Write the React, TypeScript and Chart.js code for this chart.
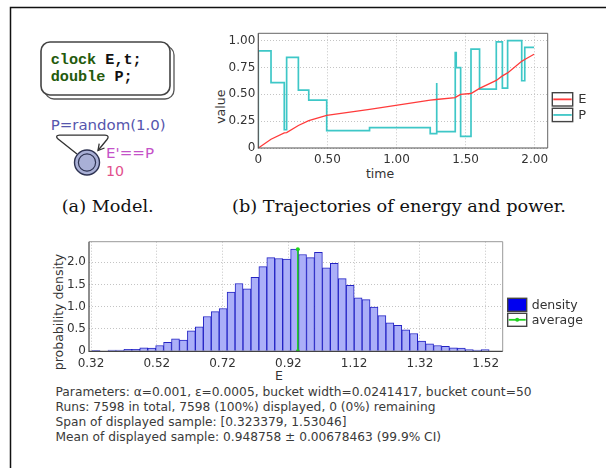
import React, { useEffect, useRef } from "react";
import { Chart, registerables } from "chart.js";

Chart.register(...registerables);

const SANS = "'DejaVu Sans', sans-serif";

// ---------- (b) Trajectories of energy and power ----------
const E_TIME = [0, 0.092, 0.188, 0.205, 0.29, 0.365, 0.495, 0.805, 1.244, 1.287, 1.425, 1.432, 1.464, 1.539, 1.601, 1.722, 1.766, 1.804, 1.908, 1.928, 1.995];
const E_VALUE = [0, 0.082, 0.14, 0.144, 0.21, 0.255, 0.305, 0.36, 0.446, 0.452, 0.47, 0.476, 0.5, 0.508, 0.556, 0.63, 0.672, 0.7, 0.81, 0.825, 0.874];
// P is piecewise constant: value P_VALUE[i] holds from P_TIME[i] to P_TIME[i+1]
const P_TIME = [0, 0, 0.092, 0.188, 0.205, 0.29, 0.365, 0.495, 0.805, 1.244, 1.287, 1.293, 1.425, 1.432, 1.464, 1.539, 1.601, 1.722, 1.766, 1.804, 1.906, 1.928];
const P_VALUE = [0, 0.905, 0.61, 0.17, 0.845, 0.54, 0.446, 0.162, 0.19, 0.134, 0.605, 0.153, 0.89, 0.75, 0.108, 0.922, 0.548, 0.99, 0.558, 1.0, 0.627, 0.938];
const P_END_TIME = 1.995;
const LINE_X_TICKS = [0, 0.5, 1, 1.5, 2];
const LINE_X_LABELS = ["0", "0.50", "1.00", "1.50", "2.00"];
const LINE_Y_TICKS = [0, 0.25, 0.5, 0.75, 1];
const LINE_Y_LABELS = ["0", "0.25", "0.50", "0.75", "1.00"];
const LINE_SERIES = ["E", "P"];

// ---------- histogram ----------
const BUCKET_START = 0.323379;
const BUCKET_WIDTH = 0.0241417;
const DENSITY = [0.02, 0, 0.03, 0.03, 0.045, 0.045, 0.08, 0.07, 0.13, 0.2, 0.28, 0.25, 0.46, 0.55, 0.78, 0.89, 0.96, 1.33, 1.52, 1.4, 1.66, 1.9, 2.1, 2.08, 2.07, 2.29, 2.17, 2.1, 2.22, 1.87, 1.97, 1.63, 1.48, 1.2, 1.16, 0.99, 0.8, 0.64, 0.58, 0.48, 0.4, 0.23, 0.17, 0.13, 0.11, 0.08, 0.07, 0.04, 0.03, 0.04];
const MEAN = 0.948758;
const MEAN_TOP = 2.29;
const HIST_X_TICKS = [0.32, 0.52, 0.72, 0.92, 1.12, 1.32, 1.52];
const HIST_X_LABELS = ["0.32", "0.52", "0.72", "0.92", "1.12", "1.32", "1.52"];
const HIST_Y_TICKS = [0, 0.5, 1, 1.5, 2];
const HIST_Y_LABELS = ["0", "0.5", "1.0", "1.5", "2.0"];
const HIST_SERIES = ["density", "average"];

const BOTTOM_LINES = [
  "Parameters: \u03b1=0.001, \u03b5=0.0005, bucket width=0.0241417, bucket count=50",
  "Runs: 7598 in total, 7598 (100%) displayed, 0 (0%) remaining",
  "Span of displayed sample: [0.323379, 1.53046]",
  "Mean of displayed sample: 0.948758 \u00b1 0.00678463 (99.9% CI)",
];
const BOTTOM_WIDTHS = [476, 380, 291, 385.5];

function framePlugin(axisColor: string, frameColor: string) {
  return {
    id: "frame",
    afterDatasetsDraw(chart: any) {
      const { ctx, chartArea: a } = chart;
      ctx.save();
      ctx.lineWidth = 1;
      ctx.strokeStyle = frameColor;
      ctx.beginPath();
      ctx.moveTo(a.left, a.top);
      ctx.lineTo(a.right, a.top);
      ctx.lineTo(a.right, a.bottom);
      ctx.stroke();
      ctx.strokeStyle = axisColor;
      ctx.lineWidth = 1.2;
      ctx.beginPath();
      ctx.moveTo(a.left, a.top);
      ctx.lineTo(a.left, a.bottom);
      ctx.lineTo(a.right, a.bottom);
      ctx.stroke();
      ctx.restore();
    },
  };
}

type LegendItem = { label: string; fill?: string; line?: string; dot?: boolean };
function legendPlugin(cfg: { x: number; y: number; w: number; h: number; step: number; gap: number; font: string; items: LegendItem[] }) {
  return {
    id: "boxLegend",
    afterDraw(chart: any) {
      const ctx = chart.ctx;
      ctx.save();
      cfg.items.forEach((it, i) => {
        const x = cfg.x;
        const y = cfg.y + i * cfg.step;
        ctx.fillStyle = it.fill || "#ffffff";
        ctx.fillRect(x, y, cfg.w, cfg.h);
        ctx.strokeStyle = "#444";
        ctx.lineWidth = 1.4;
        ctx.strokeRect(x, y, cfg.w, cfg.h);
        if (it.line) {
          ctx.strokeStyle = it.line;
          ctx.lineWidth = 1.8;
          ctx.beginPath();
          ctx.moveTo(x + 1, y + cfg.h / 2);
          ctx.lineTo(x + cfg.w - 1, y + cfg.h / 2);
          ctx.stroke();
          if (it.dot) {
            ctx.fillStyle = it.line;
            ctx.beginPath();
            ctx.arc(x + cfg.w / 2, y + cfg.h / 2, 2, 0, Math.PI * 2);
            ctx.fill();
          }
        }
        ctx.fillStyle = "#333";
        ctx.font = cfg.font;
        ctx.textAlign = "left";
        ctx.textBaseline = "middle";
        ctx.fillText(it.label, x + cfg.w + cfg.gap, y + cfg.h / 2 + 0.5);
      });
      ctx.restore();
    },
  };
}

const gridCommon = { color: "#c4c4c4", drawTicks: false, lineWidth: 1 };
const borderCommon = { display: false, dash: [1, 2] };

export default function App() {
  const lineRef = useRef<HTMLCanvasElement>(null);
  const histRef = useRef<HTMLCanvasElement>(null);

  useEffect(() => {
    Chart.defaults.font.family = SANS;
    Chart.defaults.font.size = 12;
    Chart.defaults.color = "#333";

    const pPoints: { x: number; y: number }[] = [];
    for (let i = 0; i < P_TIME.length; i++) {
      if (i > 0) pPoints.push({ x: P_TIME[i], y: P_VALUE[i - 1] });
      pPoints.push({ x: P_TIME[i], y: P_VALUE[i] });
    }
    pPoints.push({ x: P_END_TIME, y: P_VALUE[P_VALUE.length - 1] });

    const line = new Chart(lineRef.current as HTMLCanvasElement, {
      type: "line",
      data: {
        datasets: [
          {
            label: LINE_SERIES[0],
            data: E_TIME.map((t, i) => ({ x: t, y: E_VALUE[i] })),
            borderColor: "#ff3b3b",
            borderWidth: 1.3,
            pointRadius: 0,
            tension: 0,
          },
          {
            label: LINE_SERIES[1],
            data: pPoints,
            borderColor: "#3ec7c7",
            borderWidth: 1.7,
            pointRadius: 0,
            tension: 0,
          },
        ],
      },
      options: {
        responsive: false,
        animation: false,
        devicePixelRatio: 1,
        layout: { padding: { left: 0, right: 52.3, top: 13.3, bottom: 12 } },
        plugins: { legend: { display: false }, tooltip: { enabled: false } },
        scales: {
          x: {
            type: "linear",
            min: 0,
            max: 2.094,
            afterBuildTicks: (s: any) => {
              s.ticks = LINE_X_TICKS.map((v) => ({ value: v }));
            },
            afterFit: (s: any) => {
              s.height = 40;
            },
            ticks: { padding: 5, maxRotation: 0, autoSkip: false, callback: (_v: any, i: number) => LINE_X_LABELS[i] },
            grid: gridCommon,
            border: borderCommon,
          },
          y: {
            type: "linear",
            min: 0,
            max: 1.069,
            afterBuildTicks: (s: any) => {
              s.ticks = LINE_Y_TICKS.map((v) => ({ value: v }));
            },
            afterFit: (s: any) => {
              s.width = 58.3;
            },
            ticks: { padding: 3, autoSkip: false, callback: (_v: any, i: number) => LINE_Y_LABELS[i] },
            grid: gridCommon,
            border: borderCommon,
          },
        },
      },
      plugins: [
        framePlugin("#555", "#666"),
        legendPlugin({
          x: 352.3,
          y: 72.7,
          w: 20.4,
          h: 13.3,
          step: 15.6,
          gap: 5.5,
          font: `13px ${SANS}`,
          items: [
            { label: LINE_SERIES[0], line: "#ff3b3b" },
            { label: LINE_SERIES[1], line: "#3ec7c7" },
          ],
        }),
      ],
    } as any);

    const hist = new Chart(histRef.current as HTMLCanvasElement, {
      type: "bar",
      data: {
        datasets: [
          {
            type: "line",
            label: HIST_SERIES[1],
            data: [
              { x: MEAN, y: 0 },
              { x: MEAN, y: MEAN_TOP },
            ],
            borderColor: "#1ed21e",
            borderWidth: 1.5,
            pointRadius: 2,
            pointBorderWidth: 0,
            pointBackgroundColor: "#1ed21e",
            order: 0,
          },
          {
            type: "bar",
            label: HIST_SERIES[0],
            data: DENSITY.map((d, i) => ({ x: BUCKET_START + (i + 0.5) * BUCKET_WIDTH, y: d })),
            backgroundColor: "#abaff8",
            borderColor: "#2323c4",
            borderWidth: 1,
            barPercentage: 1,
            categoryPercentage: 1,
            order: 1,
          },
        ],
      },
      options: {
        responsive: false,
        animation: false,
        devicePixelRatio: 1,
        layout: { padding: { left: 0, right: 103.3, top: 11.7, bottom: 8.7 } },
        plugins: { legend: { display: false }, tooltip: { enabled: false } },
        scales: {
          x: {
            type: "linear",
            min: 0.3139,
            max: 1.5717,
            offset: false,
            afterBuildTicks: (s: any) => {
              s.ticks = HIST_X_TICKS.map((v) => ({ value: v }));
            },
            afterFit: (s: any) => {
              s.height = 20;
            },
            ticks: { padding: 5, maxRotation: 0, autoSkip: false, callback: (_v: any, i: number) => HIST_X_LABELS[i] },
            grid: { ...gridCommon, offset: false },
            border: borderCommon,
          },
          y: {
            type: "linear",
            min: 0,
            max: 2.457,
            afterBuildTicks: (s: any) => {
              s.ticks = HIST_Y_TICKS.map((v) => ({ value: v }));
            },
            afterFit: (s: any) => {
              s.width = 59;
            },
            ticks: { padding: 3, autoSkip: false, callback: (_v: any, i: number) => HIST_Y_LABELS[i] },
            grid: gridCommon,
            border: borderCommon,
          },
        },
      },
      plugins: [
        framePlugin("#444", "#999"),
        legendPlugin({
          x: 477.7,
          y: 68.3,
          w: 19,
          h: 13,
          step: 15,
          gap: 5,
          font: `12.5px ${SANS}`,
          items: [
            { label: HIST_SERIES[0], fill: "#0000f0" },
            { label: HIST_SERIES[1], line: "#1ed21e", dot: true },
          ],
        }),
      ],
    } as any);

    return () => {
      line.destroy();
      hist.destroy();
    };
  }, []);

  const titleStyle = { fontFamily: SANS, fontSize: 12.5, fill: "#333" } as any;

  return (
    <div style={{ position: "fixed", left: 0, top: 0, width: 606, height: 468, background: "#fff", overflow: "hidden" }}>
      <svg width={606} height={468} style={{ position: "absolute", left: 0, top: 0, whiteSpace: "pre" }}>
        <path d="M10.5 468 V7.5 H606" fill="none" stroke="#111" strokeWidth={1.5} />
        {/* (a) model */}
        <rect x={45} y={46} width={129} height={53} rx={9} fill="#fff" stroke="#555" strokeWidth={1.3} />
        <rect x={41} y={42} width={129} height={53} rx={9} fill="#fff" stroke="#444" strokeWidth={1.6} />
        <text x={50.7} y={64} fontFamily="'Liberation Mono', monospace" fontWeight="bold" fontSize={15.5} textLength={91} lengthAdjust="spacingAndGlyphs">
          <tspan fill="#245a0c">clock</tspan>
          <tspan fill="#111">{" E,t;"}</tspan>
        </text>
        <text x={50.7} y={81} fontFamily="'Liberation Mono', monospace" fontWeight="bold" fontSize={15.5} textLength={82} lengthAdjust="spacingAndGlyphs">
          <tspan fill="#245a0c">double</tspan>
          <tspan fill="#111">{" P;"}</tspan>
        </text>
        <text x={50.7} y={130} fontFamily={SANS} fontSize={13.8} fill="#5656ad" textLength={115} lengthAdjust="spacingAndGlyphs">
          P=random(1.0)
        </text>
        <path d="M77 154 L57.5 138.5 Q55 135.5 59.5 135.2 L105 135.2 Q110 135.5 107 139.5 L98 150.5" fill="none" stroke="#333" strokeWidth={1.3} />
        <path d="M104.5 148 L98 150.5 L99.2 143.6" fill="none" stroke="#333" strokeWidth={1.3} />
        <circle cx={87} cy={162.5} r={12.5} fill="#a9b0d6" stroke="#2e3352" strokeWidth={1.4} />
        <circle cx={87} cy={162.5} r={8.6} fill="#a9b0d6" stroke="#2e3352" strokeWidth={1.2} />
        <text x={106} y={157.7} fontFamily={SANS} fontSize={14} fill="#c452c8" textLength={48} lengthAdjust="spacingAndGlyphs">
          E'==P
        </text>
        <text x={106} y={176} fontFamily={SANS} fontSize={14} fill="#e24e8c" textLength={18} lengthAdjust="spacingAndGlyphs">
          10
        </text>
        {/* captions */}
        <text x={61.7} y={212} fontFamily="'DejaVu Serif', serif" fontSize={17.5} fill="#111" textLength={92} lengthAdjust="spacingAndGlyphs">
          (a) Model.
        </text>
        <text x={232} y={212} fontFamily="'DejaVu Serif', serif" fontSize={17.5} fill="#111" textLength={334} lengthAdjust="spacingAndGlyphs">
          (b) Trajectories of energy and power.
        </text>
        {/* axis titles */}
        <text transform="translate(224.5 106.7) rotate(-90)" textAnchor="middle" style={titleStyle}>
          value
        </text>
        <text x={380} y={178} textAnchor="middle" style={titleStyle}>
          time
        </text>
        <text transform="translate(62.5 312) rotate(-90)" textAnchor="middle" style={titleStyle}>
          probability density
        </text>
        <text x={279} y={380} textAnchor="middle" style={titleStyle}>
          E
        </text>
        {/* summary */}
        {BOTTOM_LINES.map((s, i) => (
          <text key={i} x={55.5} y={396 + i * 15.1} fontFamily={SANS} fontSize={12} fill="#3a3a3a" textLength={BOTTOM_WIDTHS[i]} lengthAdjust="spacingAndGlyphs">
            {s}
          </text>
        ))}
      </svg>
      <canvas ref={lineRef} width={400} height={180} style={{ position: "absolute", left: 200, top: 20, width: 400, height: 180 }} />
      <canvas ref={histRef} width={576} height={150} style={{ position: "absolute", left: 30, top: 230, width: 576, height: 150 }} />
    </div>
  );
}
